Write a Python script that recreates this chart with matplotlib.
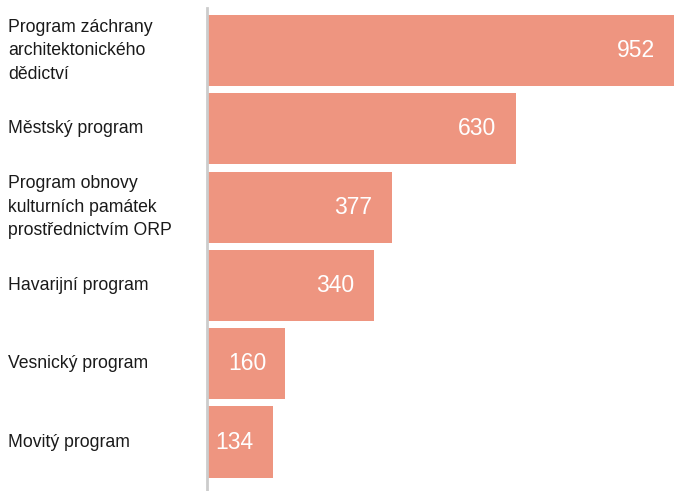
import matplotlib
matplotlib.use('Agg')
import matplotlib.pyplot as plt

categories = [
    "Program záchrany\narchitektonického\ndědictví",
    "Městský program",
    "Program obnovy\nkulturních památek\nprostřednictvím ORP",
    "Havarijní program",
    "Vesnický program",
    "Movitý program",
]
values = [952, 630, 377, 340, 160, 134]

plt.rcParams['font.family'] = ['Liberation Sans', 'DejaVu Sans']

W, H = 676, 491
fig = plt.figure(figsize=(W / 100, H / 100), dpi=100)
ax = fig.add_axes([207 / W, 1 - 490 / H, (676 - 207) / W, (490 - 8) / H])

pos = list(range(len(values)))
bars = ax.barh(pos, values, height=0.907, color='#ee9580', left=0)

ax.set_xlim(0, 952 * 469 / 467)
ax.set_ylim(5.613, -0.543)

for s in ['top', 'right', 'bottom']:
    ax.spines[s].set_visible(False)
ax.spines['left'].set_color('#cccccc')
ax.spines['left'].set_linewidth(2)
ax.set_xticks([])
ax.set_yticks([])

# popisky vlevo
for p, label in zip(pos, categories):
    ax.annotate(label, xy=(0, p), xycoords=('figure fraction', 'data'),
                xytext=(6, 0), textcoords='offset points',
                ha='left', va='center', fontsize=12.7, color='#1a1a1a',
                linespacing=1.5)

# hodnoty uvnitř sloupců
for b, v in zip(bars, values):
    ax.annotate(f'{v}', xy=(b.get_width(), b.get_y() + b.get_height() / 2),
                xytext=(-14, 0), textcoords='offset points',
                ha='right', va='center', fontsize=16.5, color='white')

fig.savefig('out.png', dpi=100)
